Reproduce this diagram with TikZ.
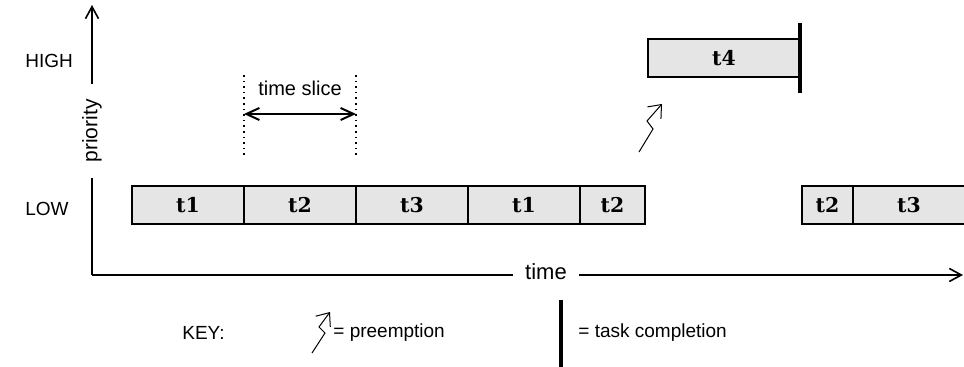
\documentclass[tikz,border=0pt]{standalone}
\usepackage{fontspec}
\setsansfont{Liberation Sans}
\newfontfamily\taskfont{DejaVu Serif}
\usetikzlibrary{arrows.meta,positioning}

\begin{document}
\begin{tikzpicture}[x=0.5pt,y=0.5pt,yscale=-1,
  taskbox/.style={draw,line width=1pt,fill=black!10,minimum height=19pt,inner sep=0pt,outer sep=0pt,
    font=\taskfont\bfseries\fontsize{10.2}{12}\selectfont},
  lbl/.style={font=\sffamily\fontsize{9.5}{11}\selectfont,inner sep=0pt},
  axis/.style={line width=0.8pt},
  barb/.style={-{Straight Barb[length=5.5pt,width=9pt]}},
  donebar/.style={line width=1.6pt}]
\useasboundingbox (0,0) rectangle (964,367);

%Axes
\coordinate (orig) at (92,275);
\coordinate (ytop) at (92,5);
\coordinate (xend) at (963,275);
\node [lbl,rotate=90,inner xsep=7.5pt,font=\sffamily\fontsize{10.5}{12}\selectfont] (prio) at (92,131) {priority};
\node [lbl,inner xsep=6pt,font=\sffamily\fontsize{11}{13}\selectfont] (timelbl) at (546,272) {time};
\draw [axis] (orig) -- (prio.west);
\draw [axis,-{Straight Barb[length=6pt,width=6.5pt]}] (prio.east) -- (ytop);
\draw [axis] (orig) -- (timelbl.west |- orig);
\draw [axis,-{Straight Barb[length=6pt,width=6.5pt]}] (timelbl.east |- orig) -- (xend);

% Text Node
\node [lbl,anchor=west] (high) at (25,61) {HIGH};
\node [lbl,anchor=west] (low) at (25,209) {LOW};

%Low priority tasks
\node [taskbox,minimum width=56pt] (t1a) at (188,205) {t1};
\node [taskbox,minimum width=56pt,right=0pt of t1a] (t2a) {t2};
\node [taskbox,minimum width=56pt,right=0pt of t2a] (t3a) {t3};
\node [taskbox,minimum width=56pt,right=0pt of t3a] (t1b) {t1};
\node [taskbox,minimum width=32.5pt,right=0pt of t1b] (t2b) {t2};
\node [taskbox,minimum width=25.5pt] (t2c) at (827.5,205) {t2};
\node [taskbox,minimum width=56pt,right=0pt of t2c] (t3c) {t3};

%High priority task
\node [taskbox,minimum width=76pt] (t4) at (724,58) {t4};
\draw [donebar] ([yshift=17.5pt]t4.east) -- ([yshift=-17.5pt]t4.east);

%Time slice
\coordinate (slicetop) at (0,75);
\coordinate (slicebot) at (0,155);
\coordinate (slicearr) at (0,114);
\draw [dotted,line width=0.8pt] (t2a.west |- slicetop) -- (t2a.west |- slicebot);
\draw [dotted,line width=0.8pt] (t3a.west |- slicetop) -- (t3a.west |- slicebot);
\draw [line width=1pt,{Straight Barb[length=6.5pt,width=6pt]}-{Straight Barb[length=6.5pt,width=6pt]}]
  (t2a.west |- slicearr) -- (t3a.west |- slicearr);
\node [lbl,font=\sffamily\fontsize{10}{12}\selectfont] (slice) at (300,88) {time slice};

%Preemption
\draw [line width=0.5pt,barb] (639,152) -- ++(14,-23) -- ++(-6,-8) -- ++(15,-17);

%Key
\node [lbl,anchor=west] (key) at (182,333) {KEY:};
\draw [line width=0.5pt,barb] (312,353) -- ++(13,-20) -- ++(-6,-6) -- ++(11,-15);
\node [lbl,anchor=west] (keypre) at (333,333) {= preemption};
\draw [donebar] (561,300) -- (561,367);
\node [lbl,anchor=west] (keydone) at (578,333) {= task completion};
\end{tikzpicture}
\end{document}
